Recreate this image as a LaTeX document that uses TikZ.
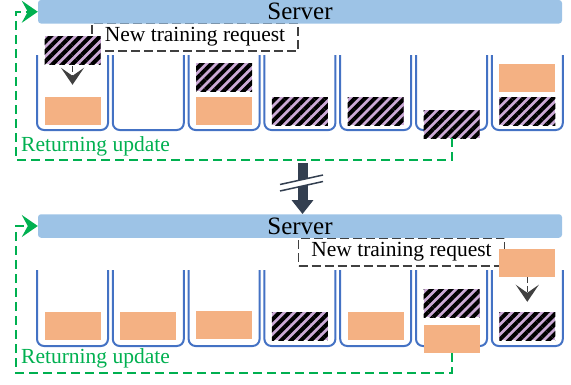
\documentclass[tikz,border=0pt]{standalone}
\usepackage{fontspec}
\setmainfont{Liberation Serif}
\usetikzlibrary{arrows.meta,patterns.meta}

\definecolor{srvblue}{HTML}{9DC3E6}
\definecolor{cupblue}{HTML}{4472C4}
\definecolor{updorange}{HTML}{F4B183}
\definecolor{lilac}{RGB}{204,170,214}
\definecolor{retgreen}{HTML}{00B050}
\definecolor{reqgray}{HTML}{404040}
\definecolor{darkslate}{HTML}{333F50}

\tikzset{
  server/.style={fill=srvblue, rounded corners=3pt, minimum width=524pt,
    minimum height=23.5pt, inner sep=0pt, font=\fontsize{25}{30}\selectfont},
  reqbox/.style={draw=reqgray, line width=1.5pt, dash pattern=on 9pt off 4pt,
    minimum width=206pt, minimum height=28pt, inner sep=0pt,
    font=\fontsize{21.5}{26}\selectfont},
  cup/.style={cupblue, line width=2pt, rounded corners=7pt},
  blk/.style={minimum width=56pt, minimum height=28pt, inner sep=0pt},
  upd/.style={blk, fill=updorange},
  hatched/.style={blk, preaction={fill=lilac},
    pattern={Lines[angle=45,distance=7pt,line width=4pt]}, pattern color=black},
  ret/.style={retgreen, line width=2pt, dash pattern=on 9pt off 5pt,
    -{Stealth[length=16pt,width=22pt,inset=6pt]}},
  retlabel/.style={anchor=west, inner sep=0pt, text=retgreen,
    font=\fontsize{21.5}{26}\selectfont},
  flow/.style={reqgray, line width=1.5pt, dash pattern=on 6pt off 3pt,
    -{Stealth[length=17pt,width=23pt,inset=8pt]}},
  bigarrow/.style={darkslate, line width=10pt,
    -{Triangle[length=14pt,width=21pt]}}
}

\begin{document}
\begin{tikzpicture}[x=1pt, y=-1pt]
  \useasboundingbox (0,0) rectangle (571,384);

  % request boxes (drawn first, bars and blocks cover their edges)
  \node[reqbox] (reqA) at (195,37) {New training request};
  \node[reqbox] (reqB) at (401.5,252) {New training request};

  % server bars
  \node[server] (srvA) at (300,11.75) {Server};
  \node[server] (srvB) at (300,226) {Server};

  % clients (cups) in both rounds
  \foreach \i in {0,...,6} {
    \draw[cup] ({37+75.8*\i},55) -- ({37+75.8*\i},130) -- ({108+75.8*\i},130) -- ({108+75.8*\i},55);
    \draw[cup] ({37+75.8*\i},270) -- ({37+75.8*\i},346) -- ({108+75.8*\i},346) -- ({108+75.8*\i},270);
  }

  % round 1 blocks
  \node[hatched] (t1h) at (72.5,50) {};
  \node[upd] (t1o) at (72.5,111) {};
  \node[hatched] (t3h) at (224.1,77) {};
  \node[upd] (t3o) at (224.1,111) {};
  \node[hatched] (t4h) at (299.9,111) {};
  \node[hatched] (t5h) at (375.7,111) {};
  \node[hatched] (t6h) at (451.5,124) {};
  \node[upd] (t7o) at (527.3,78) {};
  \node[hatched] (t7h) at (527.3,111) {};

  % round 2 blocks
  \node[upd] (b1o) at (72.5,326) {};
  \node[upd] (b2o) at (148.3,326) {};
  \node[upd] (b3o) at (224.1,325) {};
  \node[hatched] (b4h) at (299.9,326) {};
  \node[upd] (b5o) at (375.7,326) {};
  \node[hatched] (b6h) at (451.5,303) {};
  \node[upd] (b6o) at (451.5,339) {};
  \node[upd] (b7o) at (527.3,263) {};
  \node[hatched] (b7h) at (527.3,326) {};

  % training requests flowing into clients
  \draw[flow, shorten >=12pt] (t1h.south) -- (t1o.north);
  \draw[flow, shorten >=10pt] (b7o.south) -- (b7h.north);

  % returning updates
  \draw[ret] (t6h.south) -- ++(0,22) -| ([xshift=-22pt]srvA.west) -- (srvA.west);
  \draw[ret] (b6o.south) -- ++(0,20) -| ([xshift=-22pt]srvB.west) -- (srvB.west);
  \node[retlabel] (retA) at (21,146) {Returning update};
  \node[retlabel] (retB) at (21,358) {Returning update};

  % time skip between rounds
  \coordinate (skip) at (302.5,163);
  \draw[bigarrow] (skip) -- ([xshift=2.5pt]srvB.north);
  \fill[white] (280,184.5) -- (323,175) -- (323,181.5) -- (280,191) -- cycle;
  \draw[darkslate, line width=1.5pt] (280,184.5) -- (323,175);
  \draw[darkslate, line width=1.5pt] (280,191) -- (323,181.5);
\end{tikzpicture}
\end{document}
